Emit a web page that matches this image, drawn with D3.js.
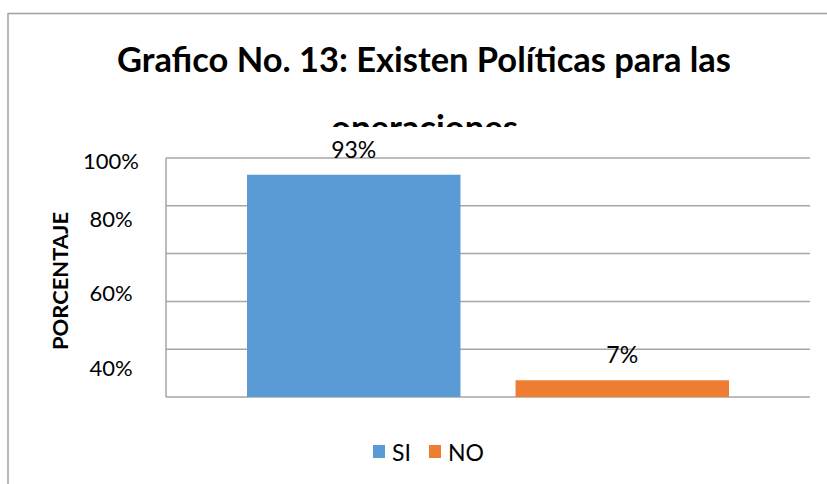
<!DOCTYPE html>
<html>
<head>
<meta charset="utf-8">
<script src="https://cdn.jsdelivr.net/npm/d3@7"></script>
<style>
  body { margin: 0; background: #fff; }
  text { font-family: Lato, "Open Sans", sans-serif; fill: #000; }
</style>
</head>
<body>
<div id="chart"></div>
<script>
// data
var categories = ["SI", "NO"];
var values = [93, 7];
var colors = ["#5b9bd5", "#ed7d31"];
var gridValues = [0, 20, 40, 60, 80, 100];
var tickLabels = [100, 80, 60, 40];
var titleLines = ["Grafico No. 13: Existen Políticas para las", "operaciones"];

var width = 827, height = 484;

var svg = d3.select("#chart")
  .append("svg")
  .attr("width", width)
  .attr("height", height);

// chart frame (only top and left edges are visible)
svg.append("line")
  .attr("x1", 8).attr("x2", width).attr("y1", 13.5).attr("y2", 13.5)
  .attr("stroke", "#a0a0a0").attr("stroke-width", 1.5);
svg.append("line")
  .attr("x1", 8).attr("x2", 8).attr("y1", 13).attr("y2", height)
  .attr("stroke", "#a0a0a0").attr("stroke-width", 1.5);

// title, second line clipped
svg.append("defs").append("clipPath")
  .attr("id", "titleClip")
  .append("rect")
  .attr("x", 0).attr("y", 0).attr("width", width).attr("height", 127);

svg.append("text")
  .attr("x", 117).attr("y", 72)
  .attr("font-size", 34)
  .attr("font-weight", "bold")
  .attr("textLength", 614)
  .attr("lengthAdjust", "spacingAndGlyphs")
  .text(titleLines[0]);

svg.append("text")
  .attr("clip-path", "url(#titleClip)")
  .attr("x", 331).attr("y", 140)
  .attr("font-size", 34)
  .attr("font-weight", "bold")
  .attr("textLength", 187)
  .attr("lengthAdjust", "spacingAndGlyphs")
  .text(titleLines[1]);

// scales
var y = d3.scaleLinear().domain([0, 100]).range([397, 158]);
var x = d3.scaleBand().domain(categories).range([247, 729]).paddingInner(0.205).paddingOuter(0);
// tick labels sit off the gridlines in the reference
var yLabel = d3.scaleLinear().domain([100, 80, 60, 40]).range([161, 219, 293, 368]);

// gridlines
svg.selectAll(".grid")
  .data(gridValues)
  .enter()
  .append("line")
  .attr("class", "grid")
  .attr("x1", 166).attr("x2", 810)
  .attr("y1", function(d) { return y(d); })
  .attr("y2", function(d) { return y(d); })
  .attr("stroke", "#a6a6a6")
  .attr("stroke-width", 1.5);

// left axis line
svg.append("line")
  .attr("x1", 166).attr("x2", 166)
  .attr("y1", y(100)).attr("y2", y(0))
  .attr("stroke", "#a6a6a6")
  .attr("stroke-width", 1.5);

// tick labels
svg.selectAll(".tick-label")
  .data(tickLabels)
  .enter()
  .append("text")
  .attr("class", "tick-label")
  .attr("x", 111)
  .attr("y", function(d) { return yLabel(d); })
  .attr("dy", "0.36em")
  .attr("text-anchor", "middle")
  .attr("font-size", 22)
  .text(function(d) { return d + "%"; });

// axis title
svg.append("text")
  .attr("transform", "translate(68,281) rotate(-90)")
  .attr("text-anchor", "middle")
  .attr("font-size", 21)
  .attr("font-weight", "bold")
  .attr("textLength", 138)
  .attr("lengthAdjust", "spacingAndGlyphs")
  .text("PORCENTAJE");

// bars
svg.selectAll(".bar")
  .data(values)
  .enter()
  .append("rect")
  .attr("class", "bar")
  .attr("x", function(d, i) { return x(categories[i]); })
  .attr("y", function(d) { return y(d); })
  .attr("width", x.bandwidth())
  .attr("height", function(d) { return y(0) - y(d); })
  .attr("fill", function(d, i) { return colors[i]; });

// value labels
svg.selectAll(".value")
  .data(values)
  .enter()
  .append("text")
  .attr("class", "value")
  .attr("x", function(d, i) { return x(categories[i]) + x.bandwidth() / 2; })
  .attr("y", function(d) { return y(d) - 17; })
  .attr("text-anchor", "middle")
  .attr("font-size", 23)
  .text(function(d) { return d + "%"; });

// legend
var legendX = [373, 429];
var legend = svg.selectAll(".legend")
  .data(categories)
  .enter()
  .append("g")
  .attr("class", "legend")
  .attr("transform", function(d, i) { return "translate(" + legendX[i] + ",0)"; });

legend.append("rect")
  .attr("x", 0).attr("y", 445)
  .attr("width", 12).attr("height", 13)
  .attr("fill", function(d, i) { return colors[i]; });

legend.append("text")
  .attr("x", 19).attr("y", 461)
  .attr("font-size", 23)
  .text(function(d) { return d; });
</script>
</body>
</html>
